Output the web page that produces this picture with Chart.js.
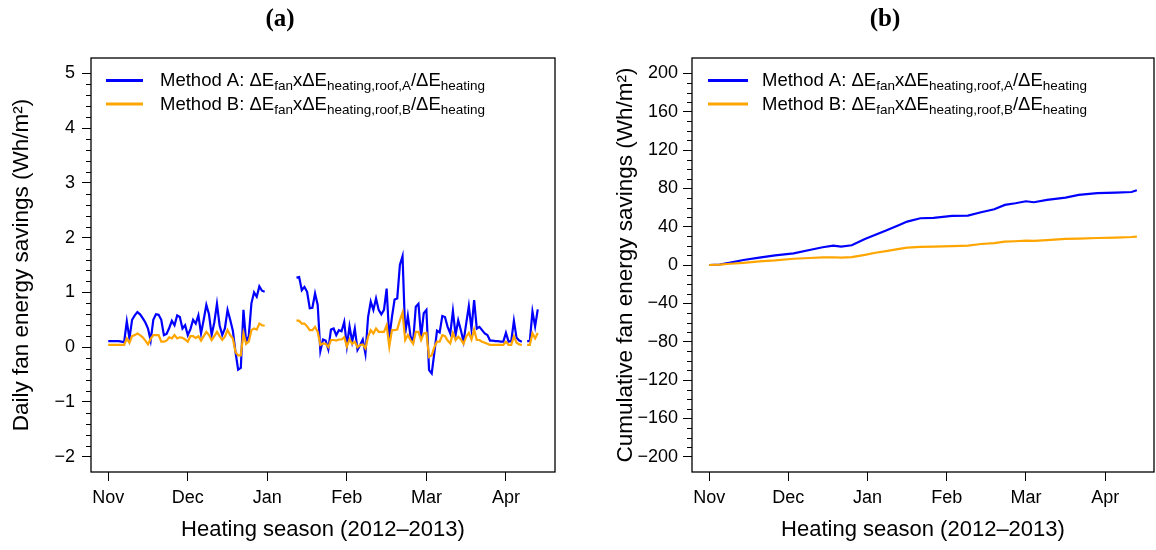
<!DOCTYPE html>
<html>
<head>
<meta charset="utf-8">
<script src="https://cdn.jsdelivr.net/npm/chart.js@4.4.0/dist/chart.umd.min.js"></script>
<style>
    body { margin: 0; background: #fff; width: 1156px; height: 550px; overflow: hidden; position: relative; }
    .panel { position: absolute; top: 0; width: 578px; height: 550px; }
    .ttl { position: absolute; top: 4px; font: bold 25px "Liberation Serif", serif; transform: translateX(-50%); color: #000; }
</style>
</head>
<body>
<div class="panel" style="left:0"><canvas id="chartA" width="578" height="550"></canvas></div>
<div class="panel" style="left:578px"><canvas id="chartB" width="578" height="550"></canvas></div>
<div class="ttl" style="left:280px">(a)</div>
<div class="ttl" style="left:885px">(b)</div>

<script>
// month ticks (day index since 1 Nov 2012)
const monthDays = [0, 30, 60, 90, 120, 150];
const monthLabels = ['Nov', 'Dec', 'Jan', 'Feb', 'Mar', 'Apr'];

// daily savings, Wh/m2, one value per day (null = no data)
const dailyA = [
    0.11, 0.11, 0.11, 0.11, 0.11, 0.10, 0.09, 0.47, 0.16, 0.50,
    0.58, 0.64, 0.60, 0.53, 0.45, 0.34, 0.12, 0.50, 0.60, 0.59,
    0.50, 0.22, 0.24, 0.35, 0.48, 0.40, 0.58, 0.55, 0.34, 0.40,
    0.22, 0.33, 0.50, 0.43, 0.58, 0.25, 0.50, 0.77, 0.60, 0.22,
    0.45, 0.79, 0.40, 0.22, 0.34, 0.68, 0.50, 0.30, -0.09, -0.41,
    -0.38, 0.68, 0.10, 0.20, 0.80, 1.00, 0.92, 1.11, 1.03, 1.01,
    null, null, null, null, null, null, null, null, null, null,
    null, 1.27, 1.28, 1.04, 1.10, 1.01, 0.71, 0.72, 0.98, 0.77,
    -0.07, 0.14, 0.12, -0.04, 0.32, 0.34, 0.22, 0.31, 0.29, 0.46,
    0.02, 0.38, 0.10, 0.34, -0.05, 0.04, 0.14, -0.12, 0.55, 0.83,
    0.68, 0.89, 0.68, 0.60, 0.68, 1.07, 0.16, 0.55, 0.87, 0.89,
    1.50, 1.66, 0.25, 0.57, 0.20, 0.10, 0.74, 0.79, 0.19, 0.62,
    0.68, -0.42, -0.48, -0.10, 0.30, 0.27, 0.57, 0.55, 0.37, 0.25,
    0.66, 0.22, 0.49, 0.31, 0.10, 0.43, 0.75, 0.33, 0.86, 0.34,
    0.37, 0.31, 0.25, 0.22, 0.12, 0.12, 0.11, 0.11, 0.10, 0.10,
    0.26, 0.10, 0.11, 0.48, 0.17, 0.12, 0.10, null, 0.11, 0.11,
    0.65, 0.38, 0.69
];
const dailyB = [
    0.04, 0.04, 0.04, 0.04, 0.04, 0.04, 0.04, 0.16, 0.08, 0.20,
    0.22, 0.25, 0.22, 0.18, 0.12, 0.05, 0.15, 0.22, 0.22, 0.22,
    0.10, 0.10, 0.12, 0.18, 0.16, 0.22, 0.16, 0.18, 0.17, 0.14,
    0.10, 0.20, 0.20, 0.17, 0.20, 0.12, 0.20, 0.28, 0.22, 0.13,
    0.20, 0.28, 0.20, 0.13, 0.19, 0.31, 0.22, 0.16, -0.09, -0.15,
    -0.15, 0.25, 0.06, 0.10, 0.31, 0.34, 0.32, 0.43, 0.40, 0.39,
    null, null, null, null, null, null, null, null, null, null,
    null, 0.49, 0.48, 0.43, 0.43, 0.38, 0.31, 0.31, 0.37, 0.28,
    0.04, 0.07, 0.06, 0.00, 0.13, 0.13, 0.12, 0.14, 0.14, 0.18,
    0.01, 0.14, 0.06, 0.10, 0.00, 0.04, 0.05, -0.02, 0.19, 0.31,
    0.25, 0.34, 0.28, 0.28, 0.28, 0.40, 0.01, 0.31, 0.31, 0.32,
    0.49, 0.63, 0.13, 0.22, 0.13, 0.06, 0.28, 0.28, 0.13, 0.25,
    0.26, -0.18, -0.15, 0.00, 0.10, 0.10, 0.22, 0.20, 0.12, 0.07,
    0.26, 0.13, 0.19, 0.14, 0.06, 0.19, 0.26, 0.14, 0.32, 0.13,
    0.13, 0.10, 0.08, 0.06, 0.04, 0.04, 0.04, 0.04, 0.04, 0.04,
    0.10, 0.04, 0.04, 0.20, 0.08, 0.05, 0.04, null, 0.04, 0.04,
    0.25, 0.16, 0.26
];

// cumulative savings, Wh/m2, read at these days
const cumDays = [0, 4, 8, 13, 19, 25, 32, 38, 43, 47, 50, 54, 59, 63, 67, 72, 75, 80, 85,
    92, 98, 103, 108, 112, 116, 120, 123, 128, 135, 140, 147, 154, 160, 162];
const cumA = [0, 0.5, 2.4, 5.2, 7.7, 10.1, 12.2, 15.7, 18.5, 20.2, 19.1, 20.6, 27.2, 31.5, 35.9, 41.8, 45.3, 48.8, 49.1,
    51.2, 51.5, 55.0, 58.2, 62.7, 64.4, 66.5, 65.5, 67.9, 70.3, 73.1, 74.9, 75.5, 76.2, 78.0];
const cumB = [0, 0.3, 1.3, 2.2, 3.8, 4.8, 6.5, 7.3, 7.9, 8.1, 7.8, 8.2, 10.5, 12.8, 14.5, 16.8, 18.1, 19.0, 19.2,
    19.6, 20.2, 21.9, 22.9, 24.4, 24.8, 25.4, 25.2, 26.0, 27.2, 27.5, 28.2, 28.6, 29.2, 29.6];

const dailyTicks = [-2, -1, 0, 1, 2, 3, 4, 5];
const cumTicks = [-200, -160, -120, -80, -40, 0, 40, 80, 120, 160, 200];

const blue = '#0000ff';
const orange = '#ffa500';
const font = '"Liberation Sans", Arial, sans-serif';

// legend with subscripts, drawn on the canvas
function drawLegend(ctx, x0, lineX0, lineX1) {
    const rows = [['A', blue, 86], ['B', orange, 109.5]];
    rows.forEach(r => {
        const [letter, color, base] = r;
        ctx.save();
        ctx.strokeStyle = color;
        ctx.lineWidth = 3;
        ctx.beginPath();
        ctx.moveTo(lineX0, base - 5.5);
        ctx.lineTo(lineX1, base - 5.5);
        ctx.stroke();
        ctx.fillStyle = '#000';
        ctx.textBaseline = 'alphabetic';
        const parts = [['Method ' + letter + ': \u0394E', 0], ['fan', 1], ['x\u0394E', 0],
            ['heating,roof,' + letter, 1], ['/\u0394E', 0], ['heating', 1]];
        let x = x0;
        parts.forEach(p => {
            ctx.font = (p[1] ? '13.5px ' : '18.5px ') + font;
            ctx.fillText(p[0], x, p[1] ? base + 4 : base);
            x += ctx.measureText(p[0]).width;
        });
        ctx.restore();
    });
}

function makePanel(id, datasets, yTicks, yMin, yMax, minorPer, yTitle, yWidth, titlePad, labelPad, padRight, legendPos) {
    const boxPlugin = {
        id: 'box',
        afterDraw(chart) {
            const ctx = chart.ctx;
            const a = chart.chartArea;
            const y = chart.scales.y;
            ctx.save();
            ctx.strokeStyle = '#000';
            ctx.lineWidth = 1.3;
            ctx.strokeRect(a.left, a.top, a.right - a.left, a.bottom - a.top);
            // minor ticks on the y axis
            ctx.lineWidth = 1;
            for (let i = 0; i < yTicks.length - 1; i++) {
                const step = (yTicks[i + 1] - yTicks[i]) / minorPer;
                for (let k = 1; k < minorPer; k++) {
                    const py = Math.round(y.getPixelForValue(yTicks[i] + k * step)) + 0.5;
                    ctx.beginPath();
                    ctx.moveTo(a.left - 5, py);
                    ctx.lineTo(a.left, py);
                    ctx.stroke();
                }
            }
            ctx.restore();
            drawLegend(ctx, legendPos[0], legendPos[1], legendPos[2]);
        }
    };

    return new Chart(document.getElementById(id), {
        type: 'line',
        data: { datasets: datasets },
        options: {
            responsive: false,
            animation: false,
            layout: { padding: { top: 58, left: 0, right: padRight, bottom: 0 } },
            plugins: { legend: { display: false }, tooltip: { enabled: false } },
            elements: { point: { radius: 0 }, line: { tension: 0, borderWidth: 2.2 } },
            scales: {
                x: {
                    type: 'linear',
                    min: -6.5,
                    max: 168.5,
                    afterBuildTicks: s => { s.ticks = monthDays.map(v => ({ value: v })); },
                    afterFit: s => { s.height = 78; },
                    ticks: {
                        color: '#000',
                        font: { family: font, size: 18 },
                        padding: 6,
                        maxRotation: 0,
                        callback: v => monthLabels[monthDays.indexOf(v)]
                    },
                    grid: { drawOnChartArea: false, color: '#000', tickLength: 9, tickWidth: 1 },
                    border: { display: false },
                    title: {
                        display: true,
                        text: 'Heating season (2012\u20132013)',
                        color: '#000',
                        font: { family: font, size: 22 },
                        padding: { top: 0, bottom: 7 }
                    }
                },
                y: {
                    min: yMin,
                    max: yMax,
                    afterBuildTicks: s => { s.ticks = yTicks.map(v => ({ value: v })); },
                    afterFit: s => { s.width = yWidth; },
                    ticks: {
                        color: '#000',
                        font: { family: font, size: 18 },
                        padding: labelPad,
                        callback: v => String(v).replace('-', '\u2212')
                    },
                    grid: { drawOnChartArea: false, color: '#000', tickLength: 9, tickWidth: 1 },
                    border: { display: false },
                    title: {
                        display: true,
                        text: yTitle,
                        color: '#000',
                        font: { family: font, size: 22.5 },
                        padding: { top: titlePad, bottom: 0 }
                    }
                }
            }
        },
        plugins: [boxPlugin]
    });
}

const days = dailyA.map((v, i) => i);

makePanel('chartA', [
    { data: days.map(d => ({ x: d, y: dailyB[d] })), borderColor: orange, spanGaps: false },
    { data: days.map(d => ({ x: d, y: dailyA[d] })), borderColor: blue, spanGaps: false }
], dailyTicks, -2.28, 5.28, 5, 'Daily fan energy savings (Wh/m\u00b2)', 91, 8, 7, 23, [160, 106, 143]);

makePanel('chartB', [
    { data: cumDays.map((d, i) => ({ x: d, y: cumB[i] })), borderColor: orange },
    { data: cumDays.map((d, i) => ({ x: d, y: cumA[i] })), borderColor: blue }
], cumTicks, -216, 216, 4, 'Cumulative fan energy savings (Wh/m\u00b2)', 114, 34, 5, 2, [184, 130, 170]);
</script>
</body>
</html>
